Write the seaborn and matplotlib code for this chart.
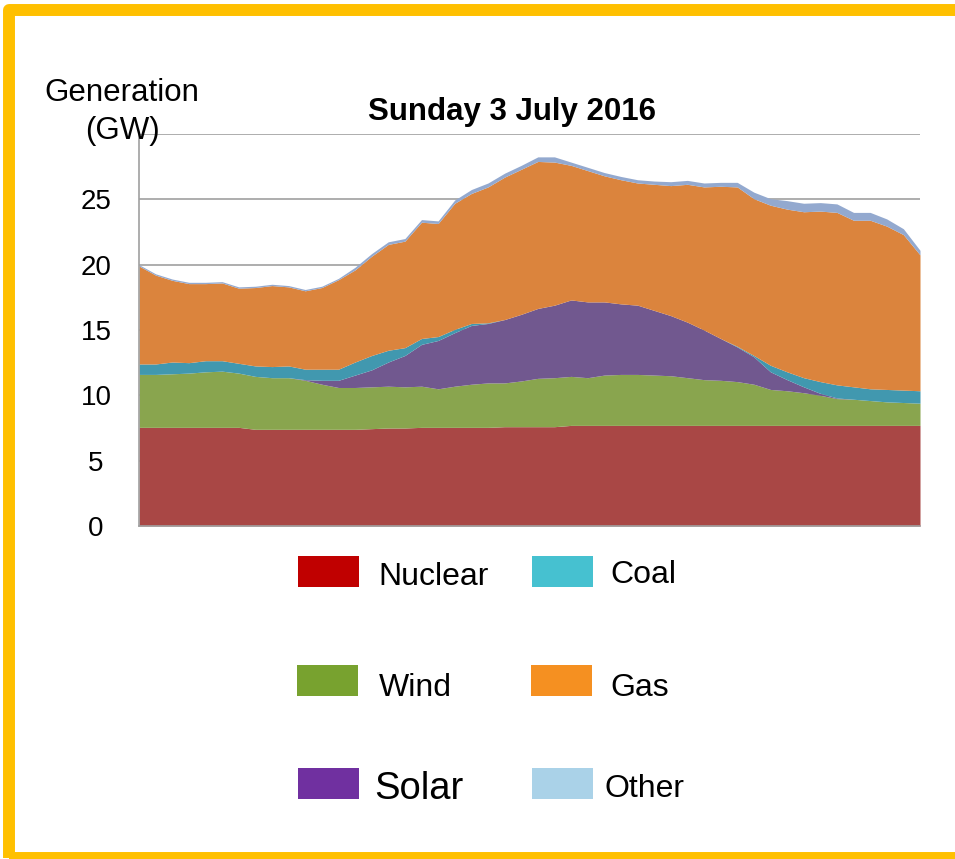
import numpy as np
import pandas as pd
import matplotlib
matplotlib.use("Agg")
import matplotlib.pyplot as plt
from matplotlib.patches import Rectangle
import seaborn as sns

# half-hourly generation (GW), Sunday 3 July 2016, 48 settlement periods
periods = list(range(48))
nuclear = [7.55]*7 + [7.4]*7 + [7.45, 7.5, 7.5] + [7.55]*5 + [7.6]*4 + [7.7]*22
wind = [4.05, 4.05, 4.1, 4.15, 4.25, 4.3, 4.15, 4.05, 3.95, 3.95,
        3.75, 3.45, 3.2, 3.2, 3.2, 3.2, 3.15, 3.15, 2.95, 3.15,
        3.3, 3.4, 3.35, 3.5, 3.7, 3.75, 3.75, 3.65, 3.85, 3.9,
        3.9, 3.85, 3.8, 3.65, 3.5, 3.45, 3.35, 3.15, 2.75, 2.65,
        2.5, 2.3, 2.05, 2.0, 1.9, 1.8, 1.75, 1.7]
solar = [0]*10 + [0.05, 0.3, 0.55, 0.95, 1.3, 1.85, 2.4, 3.2, 3.7, 4.1,
                  4.5, 4.55, 4.85, 5.1, 5.35, 5.55, 5.85, 5.8, 5.6, 5.4,
                  5.3, 4.95, 4.6, 4.25, 3.8, 3.2, 2.65, 2.1, 1.35, 0.85,
                  0.45, 0.15, 0.05] + [0]*5
coal = [0.8, 0.8, 0.9, 0.8, 0.85, 0.8, 0.75, 0.8, 0.85, 0.9,
        0.8, 0.85, 0.85, 1.0, 1.1, 0.9, 0.6, 0.45, 0.3, 0.25,
        0.15, 0.05] + [0]*14 + [0.05, 0.1, 0.5, 0.6, 0.7, 0.9, 1.0, 0.95,
                                0.9, 0.95, 0.95, 0.95]
gas = [7.5, 6.8, 6.25, 6.05, 5.9, 5.95, 5.75, 6.0, 6.2, 6.05,
       6.0, 6.25, 6.85, 7.05, 7.6, 8.1, 8.15, 8.9, 8.65, 9.65,
       9.95, 10.4, 10.9, 11.1, 11.25, 10.95, 10.3, 10.05, 9.65, 9.5,
       9.35, 9.65, 9.95, 10.55, 10.95, 11.65, 12.2, 12.0, 12.25, 12.45,
       12.7, 13.05, 13.2, 12.75, 12.9, 12.5, 11.9, 10.4]
other = [0.1]*13 + [0.2]*6 + [0.25] + [0.3]*4 + [0.35, 0.4] + [0.25]*6 + \
        [0.3]*4 + [0.35, 0.5, 0.5] + [0.65]*4 + [0.6, 0.6, 0.55, 0.45, 0.35]

labels = ["Nuclear", "Wind", "Solar", "Coal", "Gas", "Other"]
area_colors = ["#A94745", "#89A54E", "#71588F", "#4198AF", "#DB843D", "#93A9CF"]
legend_colors = {"Nuclear": "#C00000", "Coal": "#46C1D0", "Wind": "#78A22F",
                 "Gas": "#F59021", "Solar": "#7030A0", "Other": "#AAD2E8"}

df = pd.DataFrame({"period": periods, "Nuclear": nuclear, "Wind": wind,
                   "Solar": solar, "Coal": coal, "Gas": gas, "Other": other})

sns.set_theme(style="white")
plt.rcParams["font.family"] = ["Liberation Sans", "DejaVu Sans"]
plt.rcParams["text.color"] = "black"
plt.rcParams["ytick.color"] = "black"

W, H = 955, 859
fig = plt.figure(figsize=(W/100, H/100), dpi=100)
ax = fig.add_axes([139/W, 1-526/H, (920-139)/W, (526-134)/H])

ax.stackplot(df["period"], *[df[c] for c in labels], colors=area_colors,
             linewidth=0, zorder=2)
ax.set_xlim(0, 47)
ax.set_ylim(0, 30)
ax.set_yticks(range(0, 31, 5))
ax.set_yticklabels(["0", "5", "10", "15", "20", "25", ""])
ax.set_xticks([])
ax.yaxis.grid(True, color="#A0A0A0", linewidth=1.2, zorder=0)
ax.set_axisbelow(True)
ax.tick_params(axis="y", length=0, pad=31, labelsize=20, labelcolor="black")
for t in ax.get_yticklabels():
    t.set_horizontalalignment("center")
sns.despine(ax=ax, top=True, right=True)
for s in ["left", "bottom"]:
    ax.spines[s].set_color("#A0A0A0")
    ax.spines[s].set_linewidth(1.2)

fig.text(122/W, 1-112/H, "Generation\n(GW)", ha="center", va="center",
         fontsize=22.5, linespacing=1.35, color="black")
fig.text(512/W, 1-112/H, "Sunday 3 July 2016", ha="center", va="center",
         fontsize=22.5, fontweight="bold", color="black")

# legend drawn as a 2-column block below the chart
legend_items = [("Nuclear", 298, 556, 378, 585, 23),
                ("Coal", 532, 556, 610, 583, 23),
                ("Wind", 297, 665, 379, 696, 23),
                ("Gas", 531, 665, 610, 696, 23),
                ("Solar", 298, 768, 374, 799, 27.5),
                ("Other", 532, 768, 605, 797, 23)]
for name, px, py, tx, ty, fs in legend_items:
    fig.patches.append(Rectangle((px/W, 1-(py+31)/H), 61/W, 31/H,
                                 transform=fig.transFigure,
                                 facecolor=legend_colors[name], edgecolor="none"))
    fig.text(tx/W, 1-ty/H, name, ha="left", va="baseline", fontsize=fs,
             color="black")

# gold frame (right and bottom edges run past the image border)
fig.patches.append(Rectangle((9/W, 1-858/H), 950/W, (858-10)/H,
                             transform=fig.transFigure, fill=False,
                             edgecolor="#FFC000", linewidth=8.6,
                             joinstyle="round", clip_on=False))

fig.savefig("out.png", dpi=100)
